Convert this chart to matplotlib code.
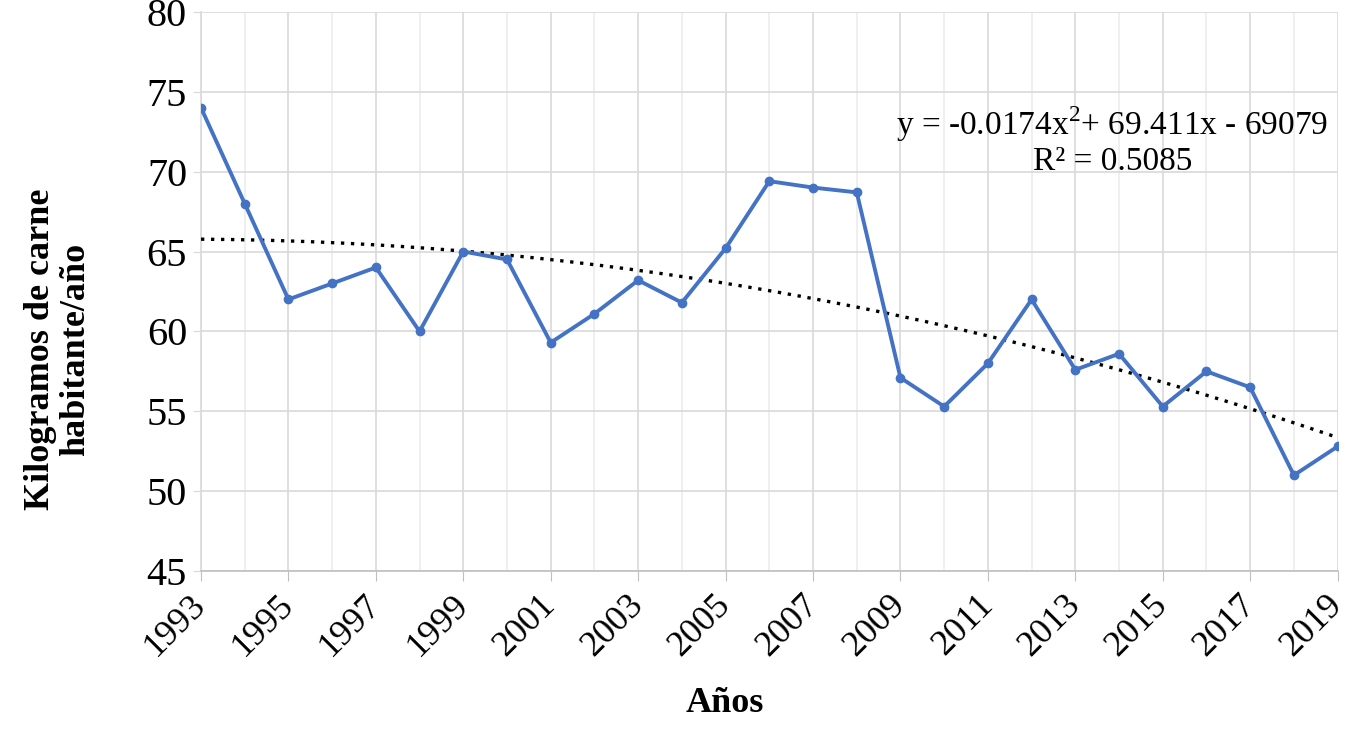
import numpy as np
import matplotlib.pyplot as plt
from matplotlib.ticker import MultipleLocator

years = list(range(1993, 2020))
kg_per_capita = [74.0, 68.0, 62.0, 63.0, 64.0, 60.0, 65.0, 64.5, 59.3, 61.1,
                 63.2, 61.8, 65.2, 69.4, 69.0, 68.7, 57.1, 55.3, 58.0, 62.0,
                 57.6, 58.6, 55.3, 57.5, 56.5, 51.0, 52.8]
year_ticks = list(range(1993, 2020, 2))
y_ticks = [45, 50, 55, 60, 65, 70, 75, 80]
equation = 'y = -0.0174x$^2$+ 69.411x - 69079\nR² = 0.5085'

plt.rcParams['font.family'] = ['Liberation Serif', 'DejaVu Serif']
plt.rcParams['mathtext.fontset'] = 'custom'
plt.rcParams['mathtext.rm'] = 'Liberation Serif'

fig = plt.figure(figsize=(13.58, 7.36), dpi=100)
ax = fig.add_axes([0.148, 0.224, 0.837, 0.76])

# polynomial trend (order 2), fitted from the data
x = np.array(years, dtype=float)
coef = np.polyfit(x - 1993, kg_per_capita, 2)
xs = np.linspace(1993, 2019, 200)
ax.plot(xs, np.polyval(coef, xs - 1993), color='black', lw=2.4,
        linestyle=(0, (1, 2.0)), zorder=3)

ax.plot(years, kg_per_capita, color='#4472C4', lw=2.8, marker='o',
        markersize=6, zorder=4)

ax.set_xlim(1993, 2019)
ax.set_ylim(45, 80)
ax.set_xticks(year_ticks)
ax.set_xticklabels([str(y) for y in year_ticks], rotation=45, ha='right',
                   va='center', rotation_mode='anchor', fontsize=26)
ax.xaxis.set_minor_locator(MultipleLocator(1))
ax.set_yticks(y_ticks)
ax.set_yticklabels([str(v) for v in y_ticks], fontsize=29)

ax.grid(which='major', color='#d9d9d9', lw=1.2)
ax.grid(which='minor', axis='x', color='#ececec', lw=1.2)
ax.set_axisbelow(True)
for s in ['top', 'right']:
    ax.spines[s].set_visible(False)
ax.spines['left'].set_color('#d9d9d9')
ax.spines['bottom'].set_color('#bfbfbf')
ax.spines['left'].set_linewidth(1.2)
ax.spines['bottom'].set_linewidth(1.2)
ax.tick_params(axis='x', which='major', length=7, color='#bfbfbf', pad=14)
ax.tick_params(axis='x', which='minor', length=0)
ax.tick_params(axis='y', length=6, color='#d9d9d9', pad=4)

ax.text(2013.85, 71.95, equation, ha='center', va='center', fontsize=24,
        linespacing=1.1)

fig.text(725 / 1358, 1 - 703 / 736, 'Años', ha='center', va='center',
         fontsize=26, fontweight='bold')
fig.text(58 / 1358, 1 - 349 / 736, 'Kilogramos de carne\nhabitante/año',
         ha='center', va='center', rotation=90, fontsize=26,
         fontweight='bold', linespacing=1.1)

fig.savefig('out.png', dpi=100)
